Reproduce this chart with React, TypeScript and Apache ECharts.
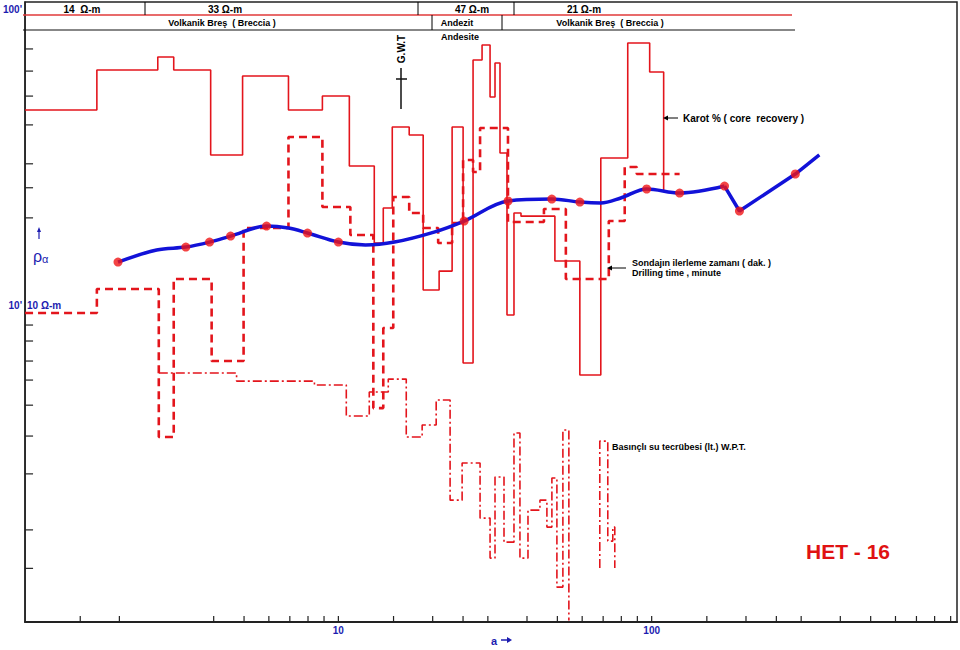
import React, { useEffect, useRef } from "react";
import * as echarts from "echarts";

// Axes: a (electrode spacing, log) vs apparent resistivity rho_a (log)
const X_MIN = 1;
const X_MAX = 943;
const Y_MIN = 0.85;
const Y_MAX = 105.6;

// Apparent resistivity sounding curve (smooth part, then straight tail)
const curveA = [1.98, 2.63, 3.26, 3.88, 4.53, 5.9, 6.93, 7.97, 10, 12.2, 15.1, 20.2, 25.2, 34.8, 48.0, 59.0, 68.8, 79.7, 96.4, 122.8, 170.8];
const curveRho = [13.97, 15.34, 15.7, 16.32, 17.1, 18.49, 18.2, 17.51, 16.32, 15.95, 16.32, 17.64, 19.22, 22.46, 22.81, 22.28, 22.11, 22.99, 24.66, 23.89, 25.23];
const tailA = [170.8, 190.6, 287.4, 342.8];
const tailRho = [25.23, 20.78, 27.71, 32.13];

// Measured points (red dots)
const dotA = [1.98, 3.26, 3.88, 4.53, 5.9, 7.97, 10, 25.2, 34.8, 48.0, 59.0, 96.4, 122.8, 170.8, 190.6, 287.4];
const dotRho = [13.97, 15.7, 16.32, 17.1, 18.49, 17.51, 16.32, 19.22, 22.46, 22.81, 22.28, 24.66, 23.89, 25.23, 20.78, 27.71];

// Core recovery (solid step line): edges and levels
const coreEdges = [1, 1.695, 2.652, 2.982, 3.912, 4.946, 6.93, 8.892, 10.84, 13.02, 13.91, 14.86, 16.83, 18.65, 20.97, 23.07, 25.01, 26.91, 28.75, 30.49, 31.62, 32.8, 34.53, 36.35, 38.27, 49.1, 58.98, 68.8, 83.87, 98.54, 109.2, 109.2];
const coreLevels = [45.59, 62.22, 68.84, 62.22, 32.13, 59.37, 45.59, 50.83, 29.49, 16.2, 21.27, 39.94, 37.52, 11.24, 13.02, 39.94, 6.37, 67.26, 75.58, 50.43, 65.71, 32.62, 9.252, 20.46, 19.97, 14.08, 5.801, 31.38, 76.77, 61.26, 24.46];

// Drilling time (dashed step line)
const drillEdges = [1, 1.695, 2.672, 2.982, 3.94, 4.983, 6.93, 8.892, 10.92, 12.93, 13.91, 14.97, 16.83, 18.65, 20.82, 23.07, 25.01, 26.91, 28.33, 34.78, 45.3, 53.22, 72.97, 82.03, 89.61, 122.8];
const drillLevels = [9.397, 11.33, 3.582, 12.24, 6.469, 18.2, 36.94, 21.44, 17.24, 4.487, 8.364, 23.17, 20.46, 18.2, 16.2, 18.92, 30.9, 28.14, 39.63, 19.07, 21.11, 12.24, 19.22, 29.26, 27.71];

// Water pressure test (dash-dot step lines)
const wptEdges = [2.672, 4.733, 8.387, 10.6, 12.55, 14.43, 16.47, 18.51, 20.52, 22.73, 24.83, 28.33, 30.49, 31.62, 33.78, 36.35, 37.98, 40.29, 43.99, 46.3, 48.03, 49.83, 52.07, 54.41, 54.41];
const wptLevels = [5.892, 5.536, 5.367, 4.217, 5.083, 5.623, 3.582, 3.932, 4.776, 2.193, 2.926, 1.907, 1.397, 2.624, 1.582, 3.695, 1.397, 2.029, 2.193, 1.778, 2.604, 1.115, 3.782, 0.86];
const wpt2Edges = [68.29, 68.29, 72.43, 75.14, 76.25, 76.25];
const wpt2Levels = [1.293, 3.471, 1.595, 1.778, 1.293];

// Axis tick marks
const xTickVals = [1.5, 2, 4, 5, 6, 7, 8, 9, 10, 15, 20, 25, 30, 40, 50, 60, 70, 80, 90, 100, 150, 200, 250, 300, 400, 500, 600, 700, 800, 900];
const yTickVals = [73.3, 61.7, 50.8, 40.6, 30.0, 24.9, 19.7, 8.56, 7.56, 6.47, 5.58, 4.59, 3.61, 2.69, 1.74, 1.29];

// Header texts
const resistivityLabels = ["14  Ω-m", "33 Ω-m", "47 Ω-m", "21 Ω-m"];
const lithologyLabels = ["Volkanik Breş  ( Breccia )", "Andezit", "Volkanik Breş  ( Breccia )"];

const RED = "#e3151c";
const BLUE = "#1212d8";
const TXT_BLUE = "#1c1cb0";
const FONT = "Arial, 'Liberation Sans', sans-serif";

function stepPoints(edges: number[], levels: number[]) {
  const pts: number[][] = [];
  for (let i = 0; i < levels.length; i++) {
    pts.push([edges[i], levels[i]], [edges[i + 1], levels[i]]);
  }
  return pts;
}

function zip(a: number[], b: number[]) {
  return a.map((v, i) => [v, b[i]]);
}

function near(v: number, t: number) {
  return Math.abs(v - t) / t < 1e-6;
}

export default function App() {
  const ref = useRef<HTMLDivElement>(null);
  useEffect(() => {
    if (!ref.current) return;
    const chart = echarts.init(ref.current, null, { renderer: "svg" });

    const txt = (text: string, x: number, y: number, opts: any = {}) => ({
      type: "text",
      x,
      y,
      rotation: opts.rotation || 0,
      style: {
        text,
        fill: opts.fill || "#000",
        font: opts.font || `bold 9px ${FONT}`,
        textAlign: opts.align || "left",
        textVerticalAlign: "middle",
      },
      z: 100,
    });
    const ln = (x1: number, y1: number, x2: number, y2: number, stroke = "#000", lineWidth = 1) => ({
      type: "line",
      shape: { x1, y1, x2, y2 },
      style: { stroke, lineWidth },
      z: 100,
    });
    const tri = (pts: number[][], fill = "#000") => ({
      type: "polygon",
      shape: { points: pts },
      style: { fill },
      z: 100,
    });

    const graphic: any[] = [
      // header lines
      ln(23, 15, 792, 15, "#e03a3a", 1.5),
      ln(23, 30, 795, 30, "#111", 1.2),
      ln(145, 2, 145, 15),
      ln(418, 2, 418, 15),
      ln(514, 2, 514, 15),
      ln(432, 15, 432, 30),
      ln(502, 15, 502, 30),
      txt(resistivityLabels[0], 82, 9, { align: "center", font: `bold 10px ${FONT}` }),
      txt(resistivityLabels[1], 225, 9, { align: "center", font: `bold 10px ${FONT}` }),
      txt(resistivityLabels[2], 472, 9, { align: "center", font: `bold 10px ${FONT}` }),
      txt(resistivityLabels[3], 584, 9, { align: "center", font: `bold 10px ${FONT}` }),
      txt(lithologyLabels[0], 222, 23, { align: "center" }),
      txt(lithologyLabels[1], 457, 23, { align: "center" }),
      txt(lithologyLabels[2], 610, 23, { align: "center" }),
      txt("Andesite", 460, 37, { align: "center" }),
      // G.W.T
      txt("G.W.T", 401, 49, { align: "center", rotation: Math.PI / 2, font: `bold 10px ${FONT}` }),
      ln(401, 68, 401, 109, "#111", 1.5),
      ln(396, 79, 407, 79, "#111", 1.5),
      // annotations
      ln(666, 118, 678, 118, "#000", 1),
      tri([[663, 118], [668, 115.5], [668, 120.5]]),
      txt("Karot % ( core  recovery )", 683, 118, { font: `bold 10px ${FONT}` }),
      ln(610, 268, 626, 268, "#000", 1),
      tri([[607, 268], [612, 265.5], [612, 270.5]]),
      txt("Sondajın ilerleme zamanı ( dak. )", 632, 263),
      txt("Drilling time , minute", 632, 273),
      txt("Basınçlı su tecrübesi (lt.) W.P.T.", 612, 447),
      txt("HET - 16", 806, 551, { fill: "#e01212", font: `bold 21px ${FONT}` }),
      // rho_a label
      txt("ρ", 33, 256, { fill: TXT_BLUE, font: `16px ${FONT}` }),
      txt("α", 42, 259, { fill: TXT_BLUE, font: `11px ${FONT}` }),
      ln(39, 231, 39, 239, TXT_BLUE, 1.2),
      tri([[39, 227], [37, 232], [41, 232]], TXT_BLUE),
      txt("10 Ω-m", 27, 305, { fill: TXT_BLUE, font: `bold 10px ${FONT}` }),
      // a ->
      txt("a", 491, 641, { fill: TXT_BLUE, font: `bold 11px ${FONT}` }),
      ln(501, 640, 508, 640, TXT_BLUE, 1.5),
      tri([[512, 640], [507, 637], [507, 643]], TXT_BLUE),
    ];

    chart.setOption({
      animation: false,
      grid: {
        left: 23,
        right: 3,
        top: 2,
        bottom: 28,
        show: true,
        borderColor: "#222",
        borderWidth: 1.5,
      },
      xAxis: {
        type: "log",
        logBase: 10,
        min: X_MIN,
        max: X_MAX,
        axisLine: { show: true, lineStyle: { color: "#222", width: 2 } },
        axisTick: { show: false },
        splitLine: { show: false },
        axisLabel: {
          margin: 3,
          color: TXT_BLUE,
          fontWeight: "bold",
          fontSize: 10,
          fontFamily: FONT,
          formatter: (v: number) => (near(v, 10) ? "10" : near(v, 100) ? "100" : ""),
        },
      },
      yAxis: {
        type: "log",
        logBase: 10,
        min: Y_MIN,
        max: Y_MAX,
        axisLine: { show: true, lineStyle: { color: "#222", width: 1.5 } },
        axisTick: { show: false },
        splitLine: { show: false },
        axisLabel: {
          margin: 3,
          color: TXT_BLUE,
          fontWeight: "bold",
          fontSize: 10,
          fontFamily: FONT,
          formatter: (v: number) => (near(v, 10) ? "10'" : near(v, 100) ? "100'" : ""),
        },
      },
      series: [
        {
          type: "line",
          data: stepPoints(coreEdges, coreLevels),
          symbol: "none",
          lineStyle: { color: RED, width: 1.6 },
          z: 2,
        },
        {
          type: "line",
          data: stepPoints(drillEdges, drillLevels),
          symbol: "none",
          lineStyle: { color: RED, width: 2.6, type: [8, 5] },
          z: 2,
        },
        {
          type: "line",
          data: stepPoints(wptEdges, wptLevels),
          symbol: "none",
          lineStyle: { color: RED, width: 1.6, type: [9, 3, 2, 3] },
          z: 2,
        },
        {
          type: "line",
          data: stepPoints(wpt2Edges, wpt2Levels),
          symbol: "none",
          lineStyle: { color: RED, width: 1.6, type: [9, 3, 2, 3] },
          z: 2,
        },
        {
          type: "line",
          data: zip(curveA, curveRho),
          symbol: "none",
          smooth: 0.35,
          lineStyle: { color: BLUE, width: 3.5 },
          z: 5,
        },
        {
          type: "line",
          data: zip(tailA, tailRho),
          symbol: "none",
          lineStyle: { color: BLUE, width: 3.5 },
          z: 5,
        },
        {
          type: "scatter",
          data: zip(dotA, dotRho),
          symbol: "circle",
          symbolSize: 9,
          itemStyle: { color: "#f01515" },
          z: 6,
        },
        {
          type: "custom",
          data: xTickVals.map((v) => [v, Y_MIN]),
          renderItem: (_p: any, api: any) => {
            const p = api.coord([api.value(0), Y_MIN]);
            return {
              type: "line",
              shape: { x1: p[0], y1: p[1], x2: p[0], y2: p[1] - 6 },
              style: { stroke: "#222", lineWidth: 1.2 },
            };
          },
          z: 3,
        },
        {
          type: "custom",
          data: yTickVals.map((v) => [X_MIN, v]),
          renderItem: (_p: any, api: any) => {
            const p = api.coord([X_MIN, api.value(1)]);
            return {
              type: "line",
              shape: { x1: p[0], y1: p[1], x2: p[0] + 8, y2: p[1] },
              style: { stroke: "#222", lineWidth: 1.2 },
            };
          },
          z: 3,
        },
      ],
      graphic,
    });
    return () => chart.dispose();
  }, []);

  return (
    <div
      ref={ref}
      style={{ position: "fixed", left: 0, top: 0, width: 960, height: 650, background: "#fff" }}
    />
  );
}
